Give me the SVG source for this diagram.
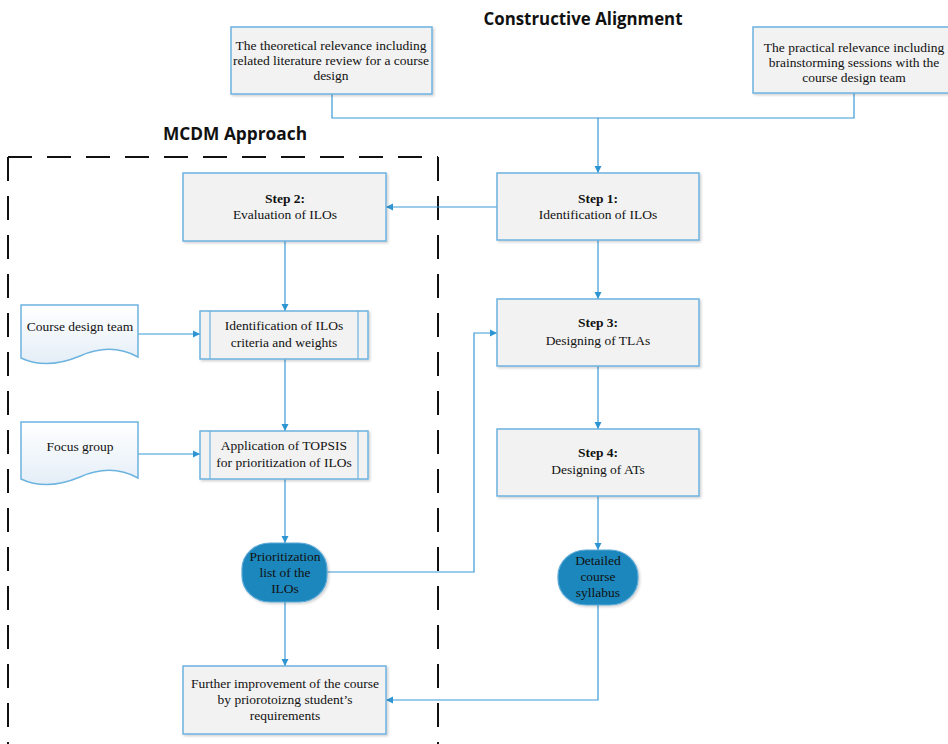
<svg xmlns="http://www.w3.org/2000/svg" width="948" height="744" viewBox="0 0 948 744">
<defs>
<style>
.box{fill:#f2f2f2;stroke:#6cb3e0;stroke-width:1.5}
.term{fill:#1f87bc;stroke:#5aa9d8;stroke-width:1.2}
.doc{fill:url(#docg);stroke:#6cb3e0;stroke-width:1.5}
.t{font-family:"Liberation Serif","Times New Roman",serif;font-size:13.5px;fill:#111;text-anchor:middle}
.b{font-weight:bold}
.h{font-family:"Open Sans","Liberation Sans",sans-serif;font-weight:bold;font-size:17px;fill:#111;text-anchor:middle}
.c{fill:none;stroke:#3a9ad6;stroke-width:1.2}
.dash{fill:none;stroke:#111;stroke-width:2;stroke-dasharray:24 15}
</style>
<linearGradient id="docg" x1="0" y1="0" x2="0" y2="1">
<stop offset="0" stop-color="#ffffff"/>
<stop offset="1" stop-color="#e4eef7"/>
</linearGradient>
<filter id="sh" x="-5%" y="-5%" width="115%" height="120%">
<feDropShadow dx="1.5" dy="1.5" stdDeviation="1" flood-color="#000" flood-opacity="0.18"/>
</filter>
<marker id="arr" markerWidth="8" markerHeight="8" refX="7" refY="4" orient="auto" markerUnits="userSpaceOnUse">
<path d="M0,0.5 L7,4 L0,7.5 Z" fill="#2e95d3"/>
</marker>
</defs>
<rect width="948" height="744" fill="#ffffff"/>

<text class="h" x="583" y="25" textLength="199" lengthAdjust="spacingAndGlyphs">Constructive Alignment</text>
<text class="h" x="235" y="140" textLength="144" lengthAdjust="spacingAndGlyphs">MCDM Approach</text>

<g id="mcdm-boundary">
<path class="dash" d="M8,157 H438"/>
<path class="dash" d="M8,157 V744"/>
<path class="dash" d="M438,157 V744"/>
</g>

<g id="connectors">
<path class="c" d="M332,94 V118 H598 V173" marker-end="url(#arr)"/>
<path class="c" d="M854,93 V118 H598"/>
<path class="c" d="M497,207 H386" marker-end="url(#arr)"/>
<path class="c" d="M598,240 V299" marker-end="url(#arr)"/>
<path class="c" d="M285,241 V311" marker-end="url(#arr)"/>
<path class="c" d="M138,334 H200" marker-end="url(#arr)"/>
<path class="c" d="M285,359 V431" marker-end="url(#arr)"/>
<path class="c" d="M138,454 H200" marker-end="url(#arr)"/>
<path class="c" d="M285,479 V543" marker-end="url(#arr)"/>
<path class="c" d="M327,572 H474 V333 H497" marker-end="url(#arr)"/>
<path class="c" d="M598,366 V429" marker-end="url(#arr)"/>
<path class="c" d="M598,496 V550" marker-end="url(#arr)"/>
<path class="c" d="M598,605 V700 H386" marker-end="url(#arr)"/>
<path class="c" d="M285,602 V666" marker-end="url(#arr)"/>
</g>

<g id="theoretical">
<rect class="box" x="231" y="27" width="201" height="67" filter="url(#sh)"/>
<text class="t" x="331" y="50">The theoretical relevance including</text>
<text class="t" x="331" y="65">related literature review for a course</text>
<text class="t" x="331" y="80">design</text>
</g>

<g id="practical">
<rect class="box" x="753" y="27" width="200" height="66" filter="url(#sh)"/>
<text class="t" x="854" y="52">The practical relevance including</text>
<text class="t" x="854" y="67">brainstorming sessions with the</text>
<text class="t" x="854" y="82">course design team</text>
</g>

<g id="step1">
<rect class="box" x="497" y="173" width="202" height="67" filter="url(#sh)"/>
<text class="t b" x="598" y="203">Step 1:</text>
<text class="t" x="598" y="219">Identification of ILOs</text>
</g>

<g id="step2">
<rect class="box" x="183" y="173" width="203" height="68" filter="url(#sh)"/>
<text class="t b" x="285" y="203">Step 2:</text>
<text class="t" x="285" y="219">Evaluation of ILOs</text>
</g>

<g id="course-design-team">
<path class="doc" d="M21,305 H138 V357 C118,346 98,348 80,356 C61,364 40,367 21,358 Z"/>
<text class="t" x="80" y="331">Course design team</text>
</g>

<g id="identification-criteria">
<rect class="box" x="200" y="311" width="168" height="48" filter="url(#sh)"/>
<line x1="210" y1="311" x2="210" y2="359" stroke="#6cb3e0" stroke-width="1.2"/>
<line x1="358" y1="311" x2="358" y2="359" stroke="#6cb3e0" stroke-width="1.2"/>
<text class="t" x="284" y="330">Identification of ILOs</text>
<text class="t" x="284" y="347">criteria and weights</text>
</g>

<g id="focus-group">
<path class="doc" d="M21,422 H138 V478 C118,467 98,469 80,477 C61,485 40,488 21,479 Z"/>
<text class="t" x="80" y="451">Focus group</text>
</g>

<g id="application-topsis">
<rect class="box" x="200" y="431" width="168" height="48" filter="url(#sh)"/>
<line x1="210" y1="431" x2="210" y2="479" stroke="#6cb3e0" stroke-width="1.2"/>
<line x1="358" y1="431" x2="358" y2="479" stroke="#6cb3e0" stroke-width="1.2"/>
<text class="t" x="284" y="450">Application of TOPSIS</text>
<text class="t" x="284" y="467">for prioritization of ILOs</text>
</g>

<g id="prioritization-list">
<rect class="term" x="242" y="543" width="85" height="59" rx="28" ry="26" filter="url(#sh)"/>
<text class="t" x="285" y="561">Prioritization</text>
<text class="t" x="285" y="577">list of the</text>
<text class="t" x="285" y="593">ILOs</text>
</g>

<g id="step3">
<rect class="box" x="497" y="299" width="202" height="67" filter="url(#sh)"/>
<text class="t b" x="598" y="327">Step 3:</text>
<text class="t" x="598" y="345">Designing of TLAs</text>
</g>

<g id="step4">
<rect class="box" x="497" y="429" width="202" height="67" filter="url(#sh)"/>
<text class="t b" x="598" y="457">Step 4:</text>
<text class="t" x="598" y="474">Designing of ATs</text>
</g>

<g id="detailed-syllabus">
<rect class="term" x="558" y="550" width="80" height="55" rx="28" ry="26" filter="url(#sh)"/>
<text class="t" x="598" y="565">Detailed</text>
<text class="t" x="598" y="581">course</text>
<text class="t" x="598" y="597">syllabus</text>
</g>

<g id="further-improvement">
<rect class="box" x="183" y="666" width="203" height="68" filter="url(#sh)"/>
<text class="t" x="285" y="688">Further improvement of the course</text>
<text class="t" x="285" y="704">by priorotoizng student’s</text>
<text class="t" x="285" y="720">requirements</text>
</g>
</svg>
